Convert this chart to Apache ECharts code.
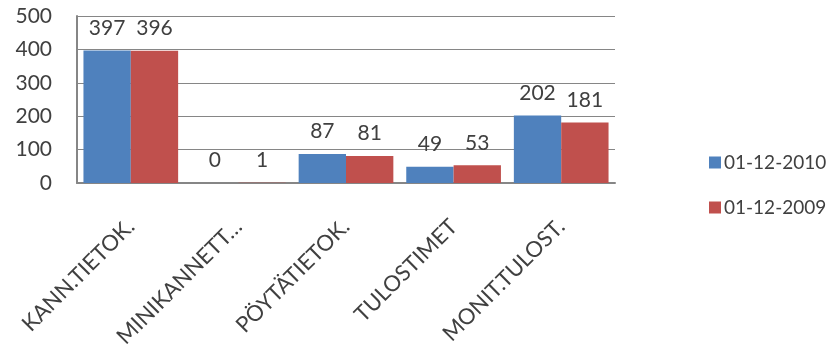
<!DOCTYPE html>
<html>
<head>
<meta charset="utf-8">
<script src="https://cdn.jsdelivr.net/npm/echarts@6/dist/echarts.min.js"></script>
<style>
  html, body { margin: 0; padding: 0; background: #fff; }
  #chart { width: 827px; height: 349px; }
</style>
</head>
<body>
<div id="chart"></div>
<script>
// Product groups and yearly counts
const categories = ['KANN.TIETOK.', 'MINIKANNETT…', 'PÖYTÄTIETOK.', 'TULOSTIMET', 'MONIT.TULOST.'];
const seriesNames = ['01-12-2010', '01-12-2009'];
const values2010 = [397, 0, 87, 49, 202];
const values2009 = [396, 1, 81, 53, 181];
const yTicks = [0, 100, 200, 300, 400, 500];

const textColor = '#404040';
const fontFamily = 'Lato, "Open Sans", sans-serif';

const chart = echarts.init(document.getElementById('chart'));

const barLabel = {
  show: true,
  position: 'top',
  distance: 12,
  color: textColor,
  fontSize: 21,
  fontFamily: fontFamily
};

chart.setOption({
  animation: false,
  textStyle: { fontFamily: fontFamily, color: textColor },
  grid: {
    left: 77, right: 212, top: 16, bottom: 166,
    containLabel: false,
    outerBoundsMode: 'none'
  },
  legend: {
    orient: 'vertical',
    left: 704,
    top: 148,
    itemWidth: 12,
    itemHeight: 12,
    itemGap: 26,
    icon: 'rect',
    textStyle: { fontSize: 19, color: textColor, fontFamily: fontFamily, padding: [0, 0, 0, -2] },
    data: seriesNames
  },
  xAxis: {
    type: 'category',
    data: categories,
    axisLine: { lineStyle: { color: '#868686', width: 2 } },
    axisTick: { show: false },
    axisLabel: {
      rotate: 45,
      interval: 0,
      margin: 40,
      fontSize: 22,
      color: textColor,
      fontFamily: fontFamily
    }
  },
  yAxis: {
    type: 'value',
    min: yTicks[0],
    max: yTicks[yTicks.length - 1],
    interval: 100,
    axisLine: { show: true, lineStyle: { color: '#868686', width: 2 } },
    axisTick: { show: false },
    splitLine: { lineStyle: { color: '#868686', width: 1 } },
    axisLabel: {
      margin: 25,
      fontSize: 21,
      color: textColor,
      fontFamily: fontFamily
    }
  },
  series: [
    {
      name: seriesNames[0],
      type: 'bar',
      data: values2010,
      barGap: '0%',
      barCategoryGap: '12%',
      itemStyle: { color: '#4F81BD' },
      label: barLabel
    },
    {
      name: seriesNames[1],
      type: 'bar',
      data: values2009,
      itemStyle: { color: '#C0504D' },
      label: barLabel
    }
  ]
});
</script>
</body>
</html>
